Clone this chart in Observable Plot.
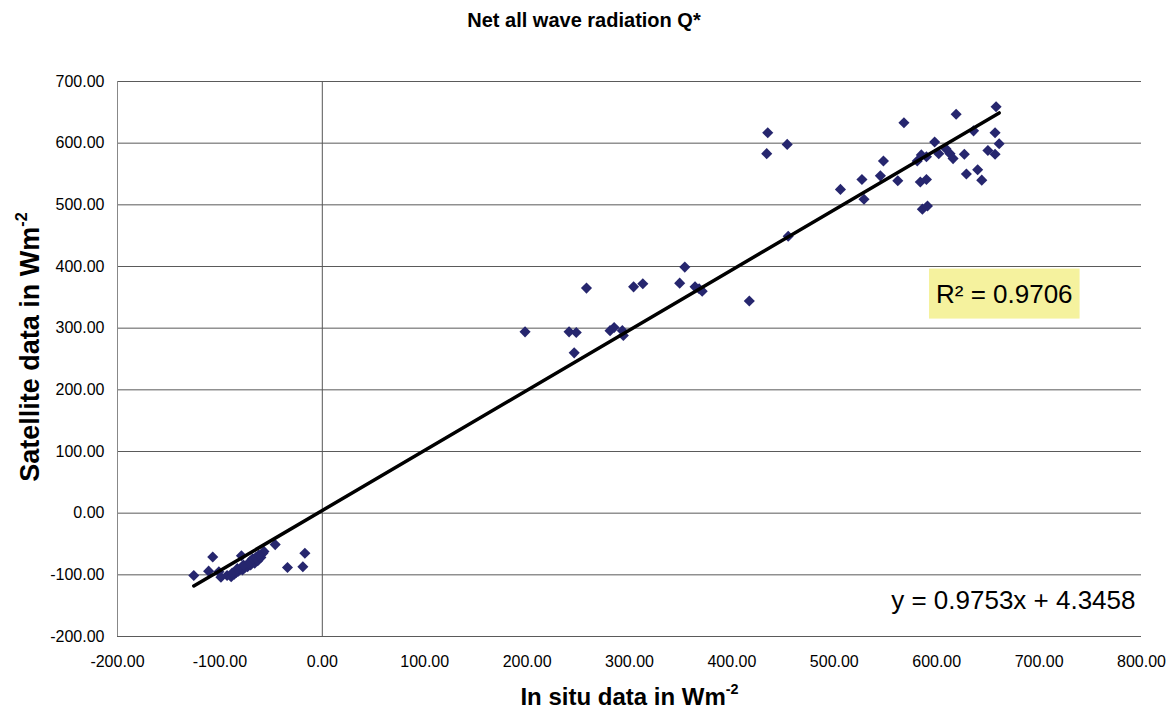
<!DOCTYPE html>
<html>
<head>
<meta charset="utf-8">
<script src="https://cdn.jsdelivr.net/npm/d3@7"></script>
<script src="https://cdn.jsdelivr.net/npm/@observablehq/plot@0.6"></script>
<style>
  body { margin: 0; background: #fff; font-family: "Liberation Sans", Arial, sans-serif; }
  #title { height: 40px; line-height: 40px; text-align: center; font-weight: bold; font-size: 20px; color: #000; }
</style>
</head>
<body>
<div id="title">Net all wave radiation Q*</div>
<div id="chart"></div>
<script>
// In situ (x) and satellite (y) net all-wave radiation, W m-2
const insitu = [
  -125.5, -111, -107, -101, -99, -93, -89, -86, -84, -82, -80, -79, -78, -76, -75, -73, -72, -70, -69, -67, -66, -64, -63, -61, -60, -58, -57, -46, -34, -19, -17,
  -88, -83, -77, -71, -68, -65, -62,
  198, 241, 248, 246, 258, 281, 285, 293, 294, 304, 313, 349, 354, 364, 368, 371, 417,
  435, 434, 454, 455, 506, 527, 529, 548, 545, 562, 568, 581, 585, 590, 584, 590, 586, 591, 598, 602, 609, 613, 616, 619, 627, 629, 636, 640, 644, 650, 658, 657, 661, 657
];
const satellite = [
  -101, -94, -71, -95, -104, -101, -103, -99, -96, -94, -91, -69, -92, -89, -86, -87, -83, -84, -80, -78, -81, -75, -77, -70, -72, -65, -62, -51, -88, -87, -65,
  -97, -90, -84, -79, -74, -72, -68,
  294, 294, 293, 260, 365, 296, 301, 296, 288, 367, 372, 373, 399, 367, 364, 360, 344,
  617, 583, 598, 449, 525, 541, 509, 571, 547, 539, 633, 571, 581, 578, 537, 541, 493, 498, 602, 583, 591, 583, 575, 647, 582, 550, 620, 557, 540, 588, 659, 617, 599, 582
];
const xTicks = [-200, -100, 0, 100, 200, 300, 400, 500, 600, 700, 800];
const yTicks = [-200, -100, 0, 100, 200, 300, 400, 500, 600, 700];
const slope = 0.9753;
const intercept = 4.3458;
const rSquared = 0.9706;
const xLabel = "In situ data in Wm";
const yLabel = "Satellite data in Wm";
const unitSup = "-2";

const points = insitu.map((x, i) => ({x, y: satellite[i]}));
const [xmin, xmax] = d3.extent(insitu);
const fit = [xmin, xmax].map(x => ({x, y: slope * x + intercept}));

const plot = Plot.plot({
  width: 1168,
  height: 669,
  marginTop: 41,
  marginBottom: 73,
  marginLeft: 117,
  marginRight: 27,
  style: {fontFamily: "'Liberation Sans', Arial, sans-serif", fontSize: "16px", background: "#fff", color: "#000"},
  x: {domain: [-200, 800]},
  y: {domain: [-200, 700]},
  marks: [
    Plot.gridY(yTicks, {stroke: "#5a5a5a", strokeOpacity: 1}),
    Plot.ruleX([-200], {stroke: "#888"}),
    Plot.ruleX([0], {stroke: "#555"}),
    Plot.axisX(xTicks, {tickSize: 0, tickPadding: 19, tickFormat: d => d.toFixed(2), label: null, fontSize: 16}),
    Plot.axisY(yTicks, {tickSize: 0, tickPadding: 13, tickFormat: d => d.toFixed(2), label: null, fontSize: 16}),
    Plot.dot(points, {x: "x", y: "y", symbol: "diamond2", r: 5, fill: "#26266e", stroke: null}),
    Plot.line(fit, {x: "x", y: "y", stroke: "#000", strokeWidth: 3.5}),
    Plot.text([`R² = ${rSquared.toFixed(4)}`], {x: 666, y: 355, fontSize: 26, fill: "#000"}),
    Plot.text([`y = ${slope}x + ${intercept}`], {x: 800, y: -142, dx: -6, textAnchor: "end", fontSize: 26, fill: "#000"}),
    Plot.text([xLabel], {frameAnchor: "bottom", dy: 61, lineAnchor: "middle", fontSize: 24, fontWeight: "bold", fill: "#000"}),
    Plot.text([yLabel], {frameAnchor: "left", dx: -87, dy: -12, rotate: -90, textAnchor: "middle", lineAnchor: "middle", fontSize: 27, fontWeight: "bold", fill: "#000"})
  ]
});
document.getElementById("chart").appendChild(plot);

// superscripts for unit labels
const svg = d3.select(plot);
for (const lab of [xLabel, yLabel]) {
  svg.selectAll("text").filter(function() { return this.textContent === lab; }).each(function() {
    const t = d3.select(this);
    t.text(null);
    t.append("tspan").text(lab);
    t.append("tspan").attr("font-size", "60%").attr("dy", "-0.75em").text(unitSup);
  });
}
// yellow box behind R² label
svg.selectAll("text").filter(function() { return this.textContent.startsWith("R²"); }).each(function() {
  const b = this.getBBox();
  const tr = this.getAttribute("transform");
  const r = d3.select(this.parentNode).insert("rect", "text")
    .attr("x", b.x - 7).attr("width", b.width + 14)
    .attr("y", b.y + b.height / 2 - 25).attr("height", 50)
    .attr("fill", "#f5f29e");
  if (tr) r.attr("transform", tr);
});
</script>
</body>
</html>
